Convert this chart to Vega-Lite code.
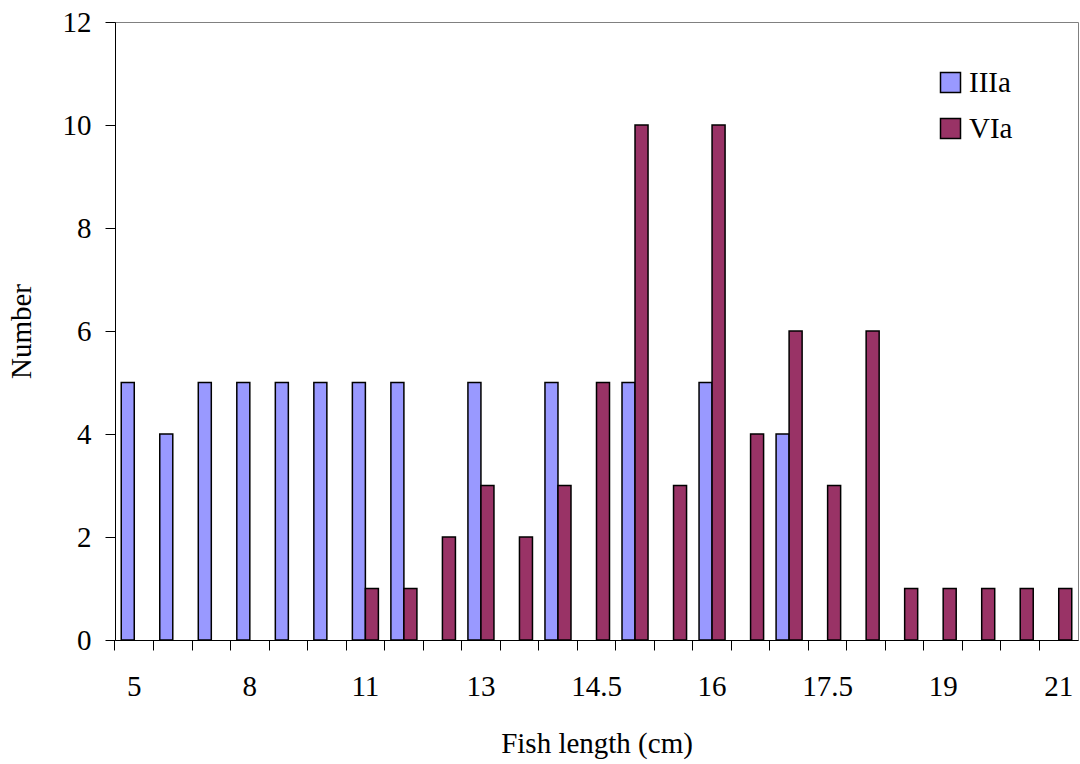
{
  "$schema": "https://vega.github.io/schema/vega-lite/v6.json",
  "autosize": {"type": "none"},
  "padding": {"left": 115, "top": 22, "right": 2, "bottom": 124},
  "width": 963,
  "height": 618,
  "background": "white",
  "config": {
    "view": {"stroke": "#808080", "strokeWidth": 1},
    "font": "Liberation Serif",
    "axis": {
      "labelFont": "Liberation Serif",
      "titleFont": "Liberation Serif",
      "labelFontSize": 29,
      "titleFontSize": 29,
      "titleFontWeight": "normal",
      "labelColor": "black",
      "titleColor": "black",
      "domainColor": "black",
      "tickColor": "black",
      "domainWidth": 1,
      "tickWidth": 1,
      "tickSize": 10,
      "grid": false
    },
    "legend": {
      "labelFont": "Liberation Serif",
      "labelFontSize": 29,
      "labelColor": "black"
    }
  },
  "data": {
    "values": [
      {"len": "5", "series": "IIIa", "count": 5},
      {"len": "6", "series": "IIIa", "count": 4},
      {"len": "7", "series": "IIIa", "count": 5},
      {"len": "8", "series": "IIIa", "count": 5},
      {"len": "9", "series": "IIIa", "count": 5},
      {"len": "10", "series": "IIIa", "count": 5},
      {"len": "11", "series": "IIIa", "count": 5},
      {"len": "12", "series": "IIIa", "count": 5},
      {"len": "13", "series": "IIIa", "count": 5},
      {"len": "14", "series": "IIIa", "count": 5},
      {"len": "15", "series": "IIIa", "count": 5},
      {"len": "16", "series": "IIIa", "count": 5},
      {"len": "17", "series": "IIIa", "count": 4},
      {"len": "11", "series": "VIa", "count": 1},
      {"len": "12", "series": "VIa", "count": 1},
      {"len": "12.5", "series": "VIa", "count": 2},
      {"len": "13", "series": "VIa", "count": 3},
      {"len": "13.5", "series": "VIa", "count": 2},
      {"len": "14", "series": "VIa", "count": 3},
      {"len": "14.5", "series": "VIa", "count": 5},
      {"len": "15", "series": "VIa", "count": 10},
      {"len": "15.5", "series": "VIa", "count": 3},
      {"len": "16", "series": "VIa", "count": 10},
      {"len": "16.5", "series": "VIa", "count": 4},
      {"len": "17", "series": "VIa", "count": 6},
      {"len": "17.5", "series": "VIa", "count": 3},
      {"len": "18", "series": "VIa", "count": 6},
      {"len": "18.5", "series": "VIa", "count": 1},
      {"len": "19", "series": "VIa", "count": 1},
      {"len": "19.5", "series": "VIa", "count": 1},
      {"len": "20", "series": "VIa", "count": 1},
      {"len": "21", "series": "VIa", "count": 1}
    ]
  },
  "mark": {"type": "bar", "stroke": "black", "strokeWidth": 1.5},
  "encoding": {
    "x": {
      "field": "len",
      "type": "nominal",
      "sort": null,
      "scale": {
        "domain": ["5","6","7","8","9","10","11","12","12.5","13","13.5","14","14.5","15","15.5","16","16.5","17","17.5","18","18.5","19","19.5","20","21"],
        "paddingInner": 0,
        "paddingOuter": 0
      },
      "axis": {
        "title": "Fish length (cm)",
        "labelAngle": 0,
        "bandPosition": 0,
        "labelOverlap": false,
        "labelPadding": 22,
        "titlePadding": 28,
        "labelExpr": "indexof(['5','8','11','13','14.5','16','17.5','19','21'], datum.value) >= 0 ? datum.label : ''"
      }
    },
    "xOffset": {
      "field": "series",
      "type": "nominal",
      "scale": {"domain": ["IIIa", "VIa"], "paddingInner": 0, "paddingOuter": 0.48}
    },
    "y": {
      "field": "count",
      "type": "quantitative",
      "scale": {"domain": [0, 12], "nice": false},
      "axis": {
        "title": "Number",
        "values": [0, 2, 4, 6, 8, 10, 12],
        "labelPadding": 14,
        "titlePadding": 26
      }
    },
    "color": {
      "field": "series",
      "type": "nominal",
      "scale": {"domain": ["IIIa", "VIa"], "range": ["#9999FF", "#993366"]},
      "legend": {
        "title": null,
        "orient": "none",
        "legendX": 821,
        "legendY": 46,
        "symbolType": "square",
        "symbolSize": 400,
        "symbolStrokeColor": "black",
        "symbolStrokeWidth": 1.5,
        "symbolOpacity": 1,
        "labelOffset": 4,
        "rowPadding": 16,
        "padding": 0
      }
    }
  }
}
